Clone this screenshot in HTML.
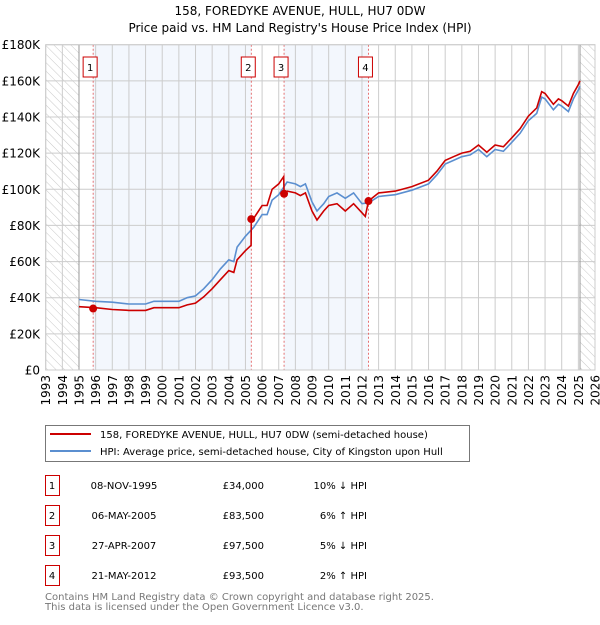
<!DOCTYPE html>
<html><head><meta charset="utf-8"><style>
body{margin:0;background:#fff}
svg text{font-family:"DejaVu Sans","Liberation Sans",sans-serif}
</style></head><body>
<svg id="c" width="600" height="620" xmlns="http://www.w3.org/2000/svg">
<defs><pattern id="hatch" width="6" height="6" patternUnits="userSpaceOnUse" patternTransform="rotate(-45)"><line x1="0" y1="0" x2="0" y2="6" stroke="#bbb" stroke-width="0.8"/></pattern></defs>
<text x="300" y="15" text-anchor="middle" font-size="12">158, FOREDYKE AVENUE, HULL, HU7 0DW</text>
<text x="300" y="32" text-anchor="middle" font-size="12">Price paid vs. HM Land Registry's House Price Index (HPI)</text>
<g id="plot"></g>
<g>
<rect x="45.5" y="425.5" width="424" height="36" fill="#fff" stroke="#777"/>
<line x1="50" y1="434" x2="91" y2="434" stroke="#cc0000" stroke-width="2"/>
<text x="100" y="438" font-size="10">158, FOREDYKE AVENUE, HULL, HU7 0DW (semi-detached house)</text>
<line x1="50" y1="451" x2="91" y2="451" stroke="#5b8fd0" stroke-width="2"/>
<text x="100" y="455" font-size="10">HPI: Average price, semi-detached house, City of Kingston upon Hull</text>
</g>
<g id="table"></g>
<text x="45" y="600" font-size="10" fill="#777">Contains HM Land Registry data © Crown copyright and database right 2025.</text>
<text x="45" y="610" font-size="10" fill="#777">This data is licensed under the Open Government Licence v3.0.</text>
</svg>
<script>
const yTicks=[0,20,40,60,80,100,120,140,160,180];
const yTickLabels=["£0","£20K","£40K","£60K","£80K","£100K","£120K","£140K","£160K","£180K"];
const years=[1993,1994,1995,1996,1997,1998,1999,2000,2001,2002,2003,2004,2005,2006,2007,2008,2009,2010,2011,2012,2013,2014,2015,2016,2017,2018,2019,2020,2021,2022,2023,2024,2025,2026];
const hpiDates=[1995.0,1996,1997,1998,1999,1999.5,2000,2001,2001.5,2002,2002.5,2003,2003.5,2004,2004.3,2004.5,2005,2005.5,2006,2006.3,2006.6,2007,2007.5,2008,2008.3,2008.6,2009,2009.3,2009.7,2010,2010.5,2011,2011.5,2012,2012.4,2013,2014,2015,2016,2016.5,2017,2017.5,2018,2018.5,2019,2019.5,2020,2020.5,2021,2021.5,2022,2022.5,2022.8,2023,2023.5,2023.8,2024,2024.4,2024.7,2025.0,2025.1];
const hpiValues=[39,38,37.5,36.5,36.5,38,38,38,40,41,45,50,56,61,60,68,74,79,86,86,94,97,104,103,101.5,103,93,88,92,96,98,95,98,92,92.5,96,97,99.5,103,108,114,116,118,119,122,118,122,121,126,131,138,142,151,150,144,147,146,143,150,155,157];
const priceDates=[1995.0,1996,1997,1998,1999,1999.5,2000,2001,2001.5,2002,2002.5,2003,2003.5,2004,2004.3,2004.5,2005,2005.34,2005.35,2005.5,2006,2006.3,2006.6,2007,2007.3,2007.32,2007.5,2008,2008.3,2008.6,2009,2009.3,2009.7,2010,2010.5,2011,2011.5,2012,2012.2,2012.39,2013,2014,2015,2016,2016.5,2017,2017.5,2018,2018.5,2019,2019.5,2020,2020.5,2021,2021.5,2022,2022.5,2022.8,2023,2023.5,2023.8,2024,2024.4,2024.7,2025,2025.1];
const priceValues=[35,34.5,33.5,33,33,34.5,34.5,34.5,36,37,40.5,45,50,55,54,61,66,69,83.5,84,91,91,100,103,107,97.5,99,98,96.5,98,88,83,88,91,92,88,92,87,85,93.5,98,99,101.5,105,110,116,118,120,121,124.5,120.5,124.5,123.5,128.5,133.5,140.5,145,154,153,147,150,149,146,153,158,160];
const saleLabels=["1","2","3","4"];
const saleDates=[1995.85,2005.35,2007.32,2012.39];
const salePrices=[34,83.5,97.5,93.5];
const saleDateText=["08-NOV-1995","06-MAY-2005","27-APR-2007","21-MAY-2012"];
const salePriceText=["£34,000","£83,500","£97,500","£93,500"];
const saleHpiText=["10% ↓ HPI","6% ↑ HPI","5% ↓ HPI","2% ↑ HPI"];

const X0=45.7,X1=595,Y0=370,Y1=44.7;
const xs=t=>X0+(t-1993)*(X1-X0)/33;
const ys=v=>Y0-v*(Y0-Y1)/180;
const NS="http://www.w3.org/2000/svg";
const plot=document.getElementById('plot');
function mk(tag,attrs,parent){const e=document.createElementNS(NS,tag);for(const k in attrs)e.setAttribute(k,attrs[k]);(parent||plot).appendChild(e);return e;}

let e=mk('rect',{x:X0,y:Y1,width:X1-X0,height:Y0-Y1,fill:'#fff'});


e=mk('rect',{x:xs(saleDates[0]),y:Y1,width:xs(saleDates[1])-xs(saleDates[0]),height:Y0-Y1,fill:'#eef3fc',opacity:0.7});


e=mk('rect',{x:xs(saleDates[2]),y:Y1,width:xs(saleDates[3])-xs(saleDates[2]),height:Y0-Y1,fill:'#eef3fc',opacity:0.7});


e=mk('rect',{x:X0,y:Y1,width:xs(1995)-X0,height:Y0-Y1,fill:'url(#hatch)'});


e=mk('rect',{x:xs(2025.1),y:Y1,width:X1-xs(2025.1),height:Y0-Y1,fill:'url(#hatch)'});



yTicks.forEach((v,i)=>{
  const g=mk('line',{x1:X0,x2:X1,y1:ys(v),y2:ys(v),stroke:'#ccc','stroke-width':1});
  
  
  const t=mk('text',{x:40,y:ys(v)+4.5,'text-anchor':'end','font-size':12});
  t.textContent=yTickLabels[i];
  
  
});
years.forEach(y=>{
  const g=mk('line',{x1:xs(y),x2:xs(y),y1:Y1,y2:Y0,stroke:'#ccc','stroke-width':1});
  
  
  const t=mk('text',{x:0,y:0,'text-anchor':'end','font-size':12,transform:`translate(${xs(y)+4.5},375) rotate(-90)`});
  t.textContent=y;
  
  
});
e=mk('line',{x1:xs(1995),x2:xs(1995),y1:Y1,y2:Y0,stroke:'#999'});


e=mk('line',{x1:xs(2025.1),x2:xs(2025.1),y1:Y1,y2:Y0,stroke:'#999'});



saleDates.forEach((d,i)=>{
  const l=mk('line',{x1:xs(d),x2:xs(d),y1:Y1,y2:Y0,stroke:'#e05050','stroke-dasharray':'2,2','stroke-width':0.8});
  
  
  const bx=xs(d)-3,by=57;
  const r=mk('rect',{x:bx-7,y:by,width:14,height:20,fill:'#fff',stroke:'#cc0000'});
  
  
  const t=mk('text',{x:bx,y:by+14,'text-anchor':'middle','font-size':10});
  t.textContent=saleLabels[i];
  
  
});

const path=(ds,vs)=>ds.map((d,i)=>(i?'L':'M')+xs(d).toFixed(1)+','+ys(vs[i]).toFixed(1)).join('');
e=mk('path',{d:path(hpiDates,hpiValues),fill:'none',stroke:'#5b8fd0','stroke-width':1.6});


e=mk('path',{d:path(priceDates,priceValues),fill:'none',stroke:'#cc0000','stroke-width':1.6});


saleDates.forEach((d,i)=>{
  const c=mk('circle',{cx:xs(d),cy:ys(salePrices[i]),r:4,fill:'#cc0000'});
  
  
});
e=mk('rect',{x:X0,y:Y1,width:X1-X0,height:Y0-Y1,fill:'none',stroke:'#ccc'});



const tb=document.getElementById('table');
saleLabels.forEach((s,i)=>{
  const y=475+i*30;
  const r=mk('rect',{x:45.5,y:y+0.5,width:14,height:20,fill:'#fff',stroke:'#cc0000'},tb);
  
  
  const cols=[[52,s,'middle','table-label'],[124,saleDateText[i],'middle','table-date'],[264,salePriceText[i],'end','table-price'],[367,saleHpiText[i],'end','table-hpi']];
  cols.forEach(c=>{
    const t=mk('text',{x:c[0],y:y+14,'text-anchor':c[2],'font-size':10},tb);
    t.textContent=c[1];
    
    
  });
});
</script>
</body></html>
